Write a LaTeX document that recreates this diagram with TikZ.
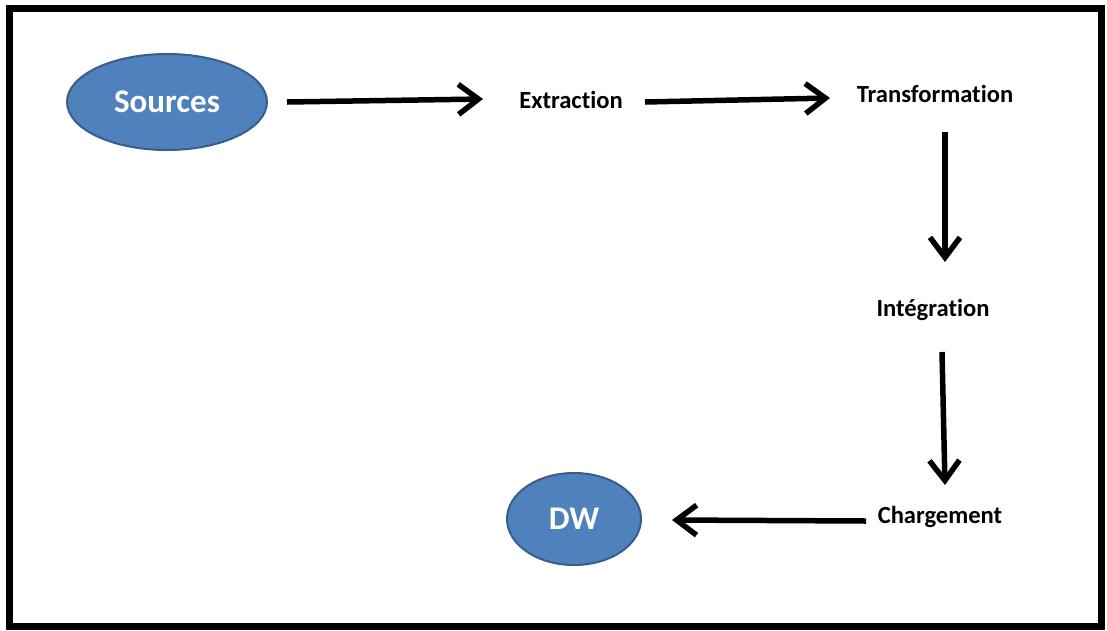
\documentclass[tikz,border=0pt]{standalone}
\usepackage{fontspec}
\setmainfont{Carlito}[Ligatures={NoCommon}]
\usetikzlibrary{arrows.meta,shapes.geometric}
\definecolor{blobfill}{HTML}{4F81BD}
\definecolor{blobline}{HTML}{385D8A}
\begin{document}
\begin{tikzpicture}[x=1pt,y=-1pt,
  blob/.style={ellipse, fill=blobfill, draw=blobline, line width=2pt,
    text=white, font=\bfseries\fontsize{33}{38}\selectfont, inner sep=0pt},
  stage/.style={inner sep=0pt, text=black, font=\bfseries\fontsize{24.6}{28}\selectfont},
  flow/.style={line width=5.5pt, -{Straight Barb[length=20pt,width=30pt]}}]
  % page and frame
  \fill[white] (0,0) rectangle (1107,630);
  \useasboundingbox (0,0) rectangle (1107,630);
  \draw[line width=7pt] (9,8) rectangle (1101,626);
  % nodes
  \node[blob, minimum width=200pt, minimum height=96pt] (src) at (167,102) {Sources};
  \node[stage] (ext) at (571,100) {Extraction};
  \node[stage] (trans) at (935,94) {Transformation};
  \node[stage] (integ) at (933,310) {Intégration};
  \node[stage] (charg) at (940,517) {Chargement};
  \node[blob, minimum width=134pt, minimum height=92pt] (dw) at (574,519) {DW};
  % connectors
  \draw[flow] ([shift={(120,0)}]src.center) -- ([shift={(-88,-1)}]ext.center);
  \draw[flow] ([shift={(74,2)}]ext.center) -- ([shift={(-105,4)}]trans.center);
  \draw[flow] ([shift={(10,38)}]trans.center) -- ([shift={(12,-48)}]integ.center);
  \draw[flow] ([shift={(9,42)}]integ.center) -- ([shift={(5,-32)}]charg.center);
  \draw[flow] ([shift={(-74,4)}]charg.center) -- ([shift={(98,1)}]dw.center);
\end{tikzpicture}
\end{document}
